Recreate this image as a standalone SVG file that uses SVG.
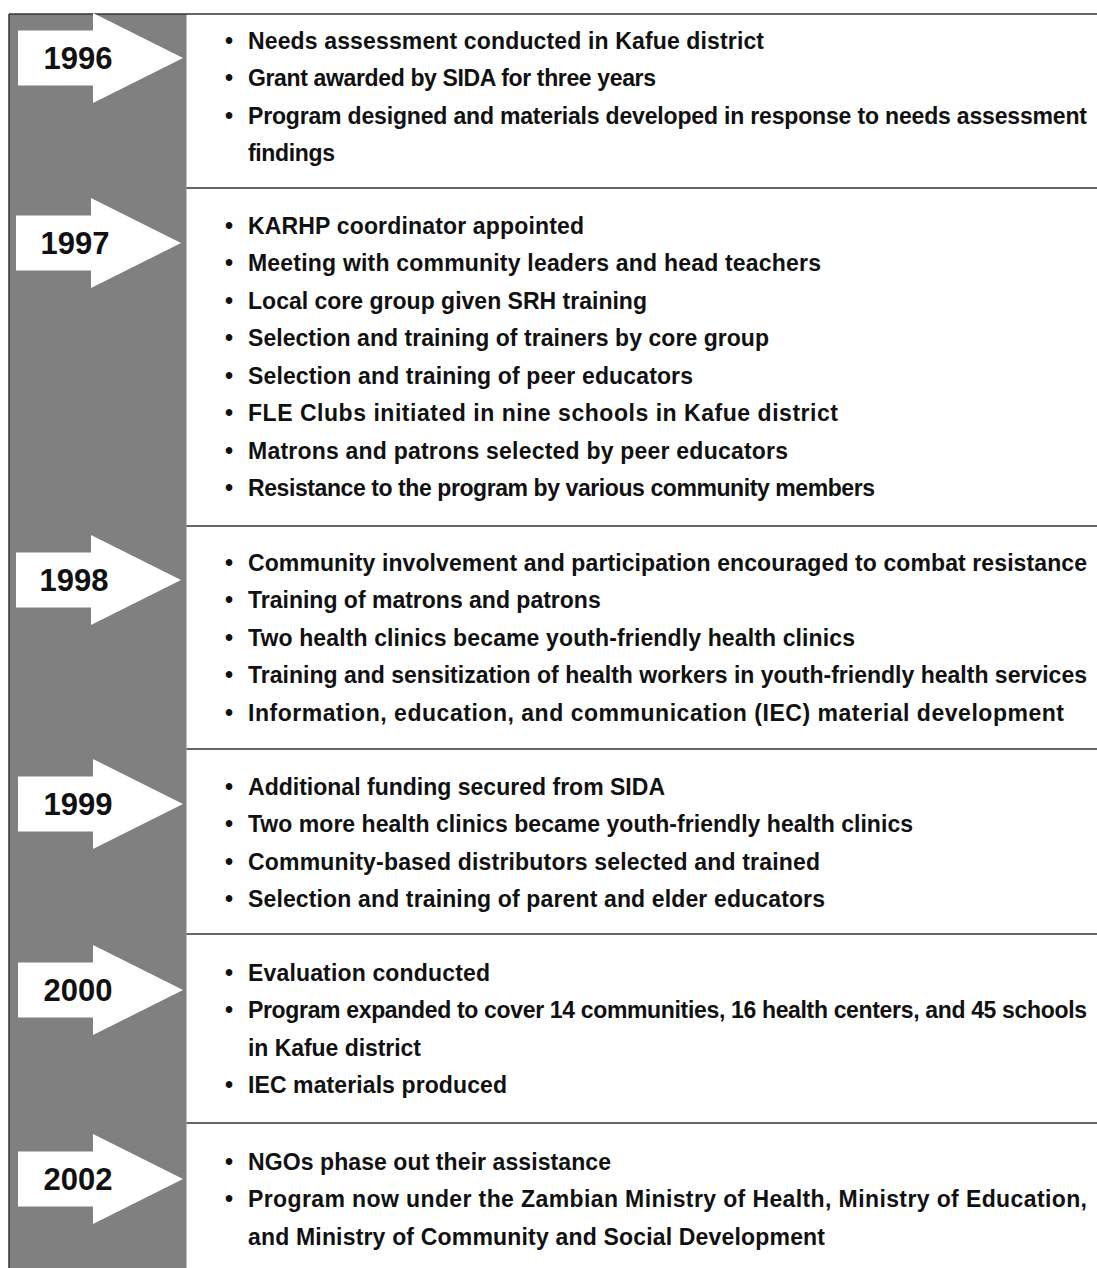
<svg xmlns="http://www.w3.org/2000/svg" width="1097" height="1268" viewBox="0 0 1097 1268">
<style>
.t{font-family:"Liberation Sans",Arial,sans-serif;font-weight:bold;font-size:23px;fill:#111}
.y{font-family:"Liberation Sans",Arial,sans-serif;font-weight:bold;font-size:31px;fill:#111;text-anchor:middle}
.arr{fill:#fff}
.sep{stroke:#333;stroke-width:1.5;fill:none}
</style>
<defs>
<path id="arrow" d="M0,-27.5 H75 V-45 L165,0 L75,45 V27.5 H0 Z"/>
</defs>
<rect x="9" y="14" width="177.5" height="1254" fill="#808080"/>
<g id="frame">
<line class="sep" x1="9" y1="14" x2="1097" y2="14"/>
<line class="sep" x1="9" y1="14" x2="9" y2="1268"/>
</g>
<g id="connectors">
<line class="sep" x1="186.5" y1="188" x2="1097" y2="188"/>
<line class="sep" x1="186.5" y1="526" x2="1097" y2="526"/>
<line class="sep" x1="186.5" y1="749" x2="1097" y2="749"/>
<line class="sep" x1="186.5" y1="934" x2="1097" y2="934"/>
<line class="sep" x1="186.5" y1="1123" x2="1097" y2="1123"/>
</g>
<g id="y1996"><use href="#arrow" class="arr" x="18" y="58"/><text class="y" x="78" y="69">1996</text></g>
<g id="y1997"><use href="#arrow" class="arr" x="16" y="243"/><text class="y" x="75" y="254">1997</text></g>
<g id="y1998"><use href="#arrow" class="arr" x="16" y="580"/><text class="y" x="74" y="591">1998</text></g>
<g id="y1999"><use href="#arrow" class="arr" x="18" y="804"/><text class="y" x="78" y="815">1999</text></g>
<g id="y2000"><use href="#arrow" class="arr" x="18" y="990"/><text class="y" x="78" y="1001">2000</text></g>
<g id="y2002"><use href="#arrow" class="arr" x="18" y="1179"/><text class="y" x="78" y="1190">2002</text></g>

<g id="items1996">
<text class="t" y="48.5"><tspan x="225">•</tspan><tspan x="248" textLength="516">Needs assessment conducted in Kafue district</tspan></text>
<text class="t" y="86"><tspan x="225">•</tspan><tspan x="248" textLength="408">Grant awarded by SIDA for three years</tspan></text>
<text class="t" y="123.5"><tspan x="225">•</tspan><tspan x="248" textLength="839">Program designed and materials developed in response to needs assessment</tspan></text>
<text class="t" y="161"><tspan x="248" textLength="87">findings</tspan></text>
</g>
<g id="items1997">
<text class="t" y="233.5"><tspan x="225">•</tspan><tspan x="248" textLength="336">KARHP coordinator appointed</tspan></text>
<text class="t" y="271"><tspan x="225">•</tspan><tspan x="248" textLength="573">Meeting with community leaders and head teachers</tspan></text>
<text class="t" y="308.5"><tspan x="225">•</tspan><tspan x="248" textLength="399">Local core group given SRH training</tspan></text>
<text class="t" y="346"><tspan x="225">•</tspan><tspan x="248" textLength="521">Selection and training of trainers by core group</tspan></text>
<text class="t" y="383.5"><tspan x="225">•</tspan><tspan x="248" textLength="445">Selection and training of peer educators</tspan></text>
<text class="t" y="421"><tspan x="225">•</tspan><tspan x="248" textLength="590">FLE Clubs initiated in nine schools in Kafue district</tspan></text>
<text class="t" y="458.5"><tspan x="225">•</tspan><tspan x="248" textLength="540">Matrons and patrons selected by peer educators</tspan></text>
<text class="t" y="496"><tspan x="225">•</tspan><tspan x="248" textLength="627">Resistance to the program by various community members</tspan></text>
</g>
<g id="items1998">
<text class="t" y="570.5"><tspan x="225">•</tspan><tspan x="248" textLength="839">Community involvement and participation encouraged to combat resistance</tspan></text>
<text class="t" y="608"><tspan x="225">•</tspan><tspan x="248">Training of matrons and patrons</tspan></text>
<text class="t" y="645.5"><tspan x="225">•</tspan><tspan x="248" textLength="607">Two health clinics became youth-friendly health clinics</tspan></text>
<text class="t" y="683"><tspan x="225">•</tspan><tspan x="248" textLength="839">Training and sensitization of health workers in youth-friendly health services</tspan></text>
<text class="t" y="720.5"><tspan x="225">•</tspan><tspan x="248" textLength="816">Information, education, and communication (IEC) material development</tspan></text>
</g>
<g id="items1999">
<text class="t" y="794.5"><tspan x="225">•</tspan><tspan x="248" textLength="417">Additional funding secured from SIDA</tspan></text>
<text class="t" y="832"><tspan x="225">•</tspan><tspan x="248" textLength="665">Two more health clinics became youth-friendly health clinics</tspan></text>
<text class="t" y="869.5"><tspan x="225">•</tspan><tspan x="248" textLength="572">Community-based distributors selected and trained</tspan></text>
<text class="t" y="907"><tspan x="225">•</tspan><tspan x="248" textLength="577">Selection and training of parent and elder educators</tspan></text>
</g>
<g id="items2000">
<text class="t" y="980.5"><tspan x="225">•</tspan><tspan x="248" textLength="242">Evaluation conducted</tspan></text>
<text class="t" y="1018"><tspan x="225">•</tspan><tspan x="248" textLength="839">Program expanded to cover 14 communities, 16 health centers, and 45 schools</tspan></text>
<text class="t" y="1055.5"><tspan x="248" textLength="173">in Kafue district</tspan></text>
<text class="t" y="1093"><tspan x="225">•</tspan><tspan x="248" textLength="259">IEC materials produced</tspan></text>
</g>
<g id="items2002">
<text class="t" y="1169.5"><tspan x="225">•</tspan><tspan x="248" textLength="363">NGOs phase out their assistance</tspan></text>
<text class="t" y="1207"><tspan x="225">•</tspan><tspan x="248" textLength="839">Program now under the Zambian Ministry of Health, Ministry of Education,</tspan></text>
<text class="t" y="1244.5"><tspan x="248" textLength="577">and Ministry of Community and Social Development</tspan></text>
</g>
</svg>
